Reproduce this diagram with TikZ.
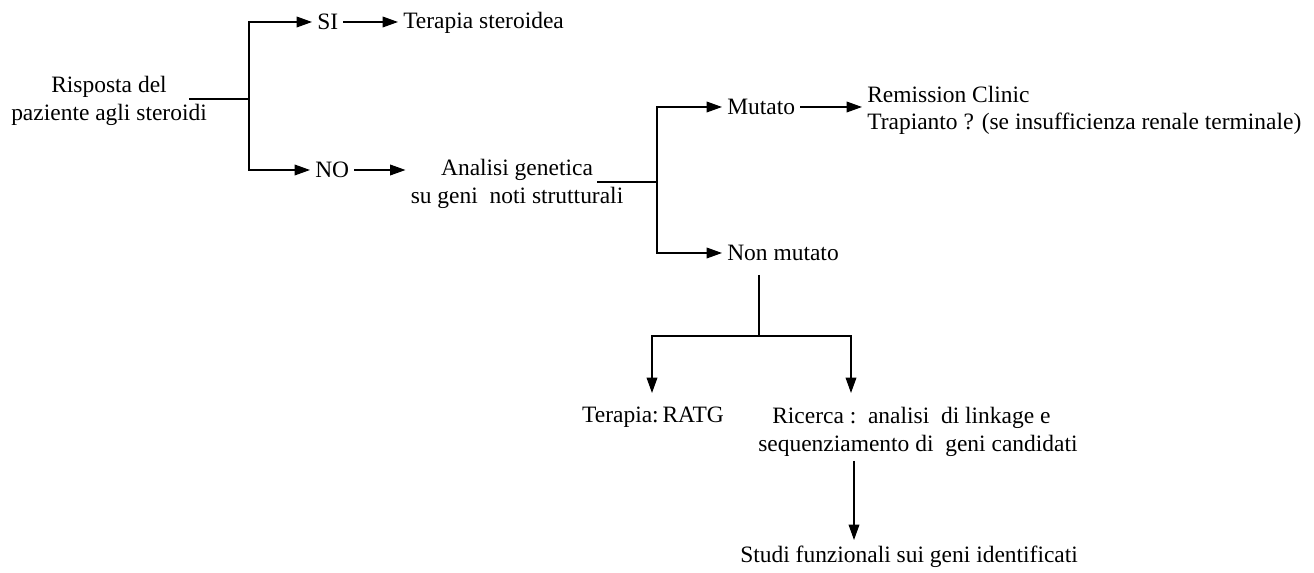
\documentclass[tikz,border=0pt]{standalone}
\usepackage{fontspec}
\setmainfont{Liberation Serif}
\usetikzlibrary{arrows.meta}
\begin{document}
\begin{tikzpicture}[x=0.75pt,y=-0.75pt,
  every node/.style={inner xsep=3.75pt, inner ysep=0pt, font=\fontsize{17.6}{21}\selectfont},
  conn/.style={line width=1pt},
  arr/.style={conn,-{Triangle[length=11.5pt,width=8pt]}}]
\useasboundingbox (0,0) rectangle (1314,573);
% nodes
\node[align=center] (risp) at (109,101) {Risposta del\\paziente agli steroidi};
\node[anchor=west] (si) at (312,22) {SI};
\node[anchor=west] (ters) at (398,23) {Terapia steroidea};
\node[anchor=west] (no) at (310,170) {NO};
\node[align=center] (anal) at (517,184) {Analisi genetica\\su geni\ \ noti strutturali};
\node[anchor=west] (mut) at (722,107) {Mutato};
\node[anchor=west] (rem) at (862,94) {Remission Clinic};
\node[anchor=west] (trap) at (862,124) {Trapianto ? (se insufficienza renale terminale)};
\node[anchor=west] (nonm) at (722,253) {Non mutato};
\node[anchor=north] (ratg) at (653,407) {Terapia:\,RATG};
\node[anchor=north west, align=left] (ric) at (753,407) {\hspace*{10.5pt}Ricerca :\ \ analisi\ \ di linkage e\\sequenziamento di\ \ geni candidati};
\node[anchor=north west] (studi) at (735,546) {Studi funzionali sui geni identificati};
% coordinates
\coordinate (c1) at (189,99);
\coordinate (j1) at (249,99);
\coordinate (c2) at (597,182);
\coordinate (j2) at (657,182);
\coordinate (c3) at (759,275);
\coordinate (j3) at (759,336);
\coordinate (tl) at (652,393);
\coordinate (tr) at (851,393);
\coordinate (c4) at (854,461);
\coordinate (t4) at (854,540);
% connectors
\draw[conn] (c1) -- (j1);
\draw[arr] (j1) |- (si.west);
\draw[arr] (j1) |- (no.west);
\draw[arr] (si.east) -- (si.east -| ters.west);
\draw[arr] (no.east) -- (no.east -| anal.west);
\draw[conn] (c2) -- (j2);
\draw[arr] (j2) |- (mut.west);
\draw[arr] (j2) |- (nonm.west);
\draw[arr] (mut.east) -- (mut.east -| rem.west);
\draw[conn] (c3) -- (j3);
\draw[arr] (j3) -| (tl);
\draw[arr] (j3) -| (tr);
\draw[arr] (c4) -- (t4);
\end{tikzpicture}
\end{document}
